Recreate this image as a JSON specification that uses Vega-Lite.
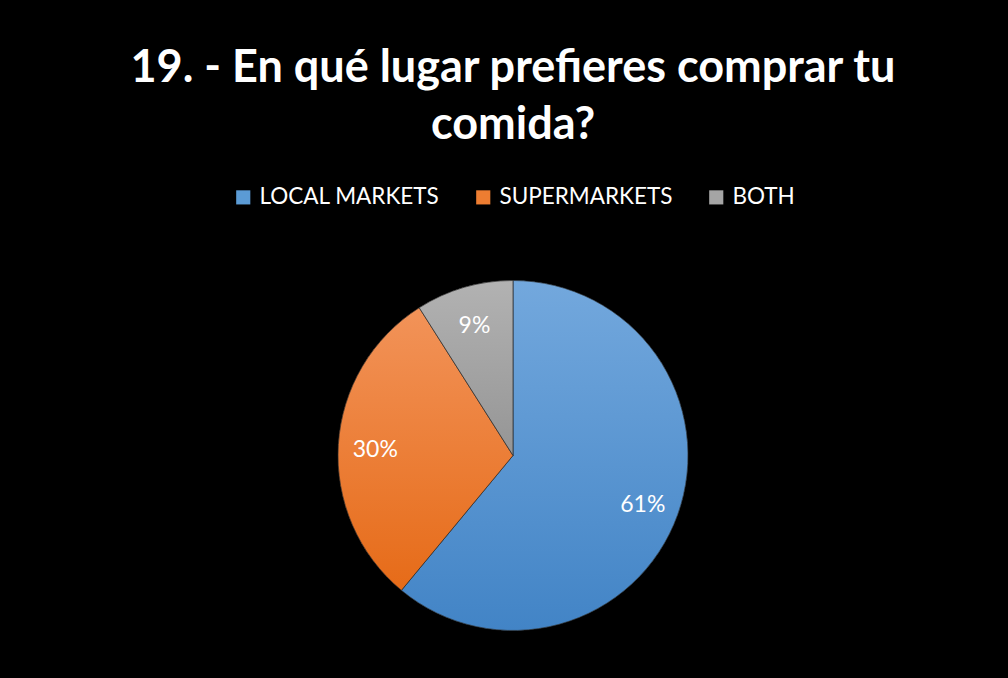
{
  "$schema": "https://vega.github.io/schema/vega-lite/v6.json",
  "width": 1008,
  "height": 678,
  "autosize": {"type": "fit", "contains": "padding"},
  "background": "#000000",
  "padding": {"top": 46, "left": 20, "right": 2, "bottom": 46},
  "config": {"view": {"stroke": null}, "font": "Lato", "legend": {"layout": {"top": {"anchor": "middle"}}}},
  "title": {
    "text": ["19. - En qué lugar prefieres comprar tu", "comida?"],
    "fontSize": 45,
    "fontWeight": "bold",
    "font": "Lato",
    "color": "#ffffff",
    "anchor": "middle",
    "lineHeight": 57,
    "offset": 38
  },
  "data": {
    "values": [
      {"category": "LOCAL MARKETS", "value": 61, "label": "61%", "ord": 1},
      {"category": "SUPERMARKETS", "value": 30, "label": "30%", "ord": 2},
      {"category": "BOTH", "value": 9, "label": "9%", "ord": 3}
    ]
  },
  "transform": [
    {"stack": "value", "groupby": [], "sort": [{"field": "ord"}], "as": ["s0", "s1"]}
  ],
  "layer": [
    {
      "mark": {"type": "arc", "radius": 175},
      "encoding": {
        "theta": {"field": "s0", "type": "quantitative", "scale": {"domain": [0, 100]}},
        "theta2": {"field": "s1"},
        "color": {
          "field": "category",
          "type": "nominal",
          "scale": {"domain": ["LOCAL MARKETS", "SUPERMARKETS", "BOTH"], "range": ["#5b9bd5", "#ed7d31", "#a5a5a5"]},
          "legend": {
            "title": null,
            "orient": "top",
            "direction": "horizontal",
            "labelColor": "#ffffff",
            "labelFontSize": 22.5,
            "labelFont": "Lato",
            "labelLimit": 400,
            "symbolType": "square",
            "symbolSize": 200,
            "symbolStrokeWidth": 0,
            "columnPadding": 32,
            "labelOffset": 5,
            "offset": 70
          }
        }
      }
    },
    {
      "transform": [{"filter": "datum.category === 'LOCAL MARKETS'"}],
      "mark": {"type": "arc", "radius": 175, "stroke": "#2a2a2a", "strokeWidth": 0.7,
        "color": {"gradient": "linear", "x1": 0, "y1": 0, "x2": 0, "y2": 1,
          "stops": [{"offset": 0, "color": "#73a8dd"}, {"offset": 1, "color": "#4284c6"}]}},
      "encoding": {
        "theta": {"field": "s0", "type": "quantitative"},
        "theta2": {"field": "s1"}
      }
    },
    {
      "transform": [{"filter": "datum.category === 'SUPERMARKETS'"}],
      "mark": {"type": "arc", "radius": 175, "stroke": "#2a2a2a", "strokeWidth": 0.7,
        "color": {"gradient": "linear", "x1": 0, "y1": 0, "x2": 0, "y2": 1,
          "stops": [{"offset": 0, "color": "#f29359"}, {"offset": 1, "color": "#e66b18"}]}},
      "encoding": {
        "theta": {"field": "s0", "type": "quantitative"},
        "theta2": {"field": "s1"}
      }
    },
    {
      "transform": [{"filter": "datum.category === 'BOTH'"}],
      "mark": {"type": "arc", "radius": 175, "stroke": "#2a2a2a", "strokeWidth": 0.7,
        "color": {"gradient": "linear", "x1": 0, "y1": 0, "x2": 0, "y2": 1,
          "stops": [{"offset": 0, "color": "#b2b2b2"}, {"offset": 1, "color": "#959595"}]}},
      "encoding": {
        "theta": {"field": "s0", "type": "quantitative"},
        "theta2": {"field": "s1"}
      }
    },
    {
      "mark": {"type": "text", "radius": 138, "dy": 3, "fontSize": 23, "font": "Lato", "color": "#ffffff"},
      "encoding": {
        "theta": {"field": "value", "type": "quantitative", "stack": true},
        "order": {"field": "ord", "type": "quantitative"},
        "text": {"field": "label"}
      }
    }
  ]
}
